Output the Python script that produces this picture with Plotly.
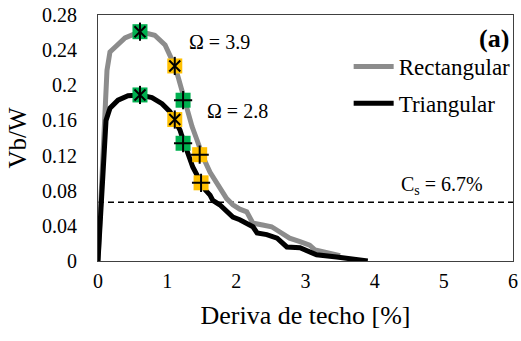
import plotly.graph_objects as go

# Rectangular (gray) curve
rect_x = [0, 0.043, 0.072, 0.101, 0.130, 0.173, 0.275, 0.39, 0.607, 0.82, 0.97, 1.07, 1.11, 1.16,
          1.23, 1.29, 1.36, 1.43, 1.52, 1.62, 1.72, 1.81, 1.86, 1.95, 2.05, 2.15, 2.20, 2.24,
          2.38, 2.51, 2.59, 2.66, 2.77, 2.92, 3.06, 3.14, 3.31, 3.50]
rect_y = [0, 0.069, 0.126, 0.183, 0.217, 0.238, 0.246, 0.254, 0.261, 0.257, 0.246, 0.231, 0.222, 0.209,
          0.189, 0.172, 0.153, 0.138, 0.118, 0.101, 0.088, 0.075, 0.071, 0.064, 0.059, 0.056, 0.050, 0.043,
          0.041, 0.039, 0.035, 0.031, 0.026, 0.022, 0.018, 0.0125, 0.009, 0.006]

# Triangular (black) curve
tri_x = [0, 0.029, 0.058, 0.087, 0.116, 0.173, 0.289, 0.434, 0.607, 0.78, 0.925, 1.04, 1.11, 1.185,
         1.23, 1.29, 1.37, 1.47, 1.55, 1.62, 1.66, 1.76, 1.86, 1.95, 2.05, 2.15, 2.24, 2.30, 2.44,
         2.59, 2.67, 2.73, 2.92, 3.06, 3.16, 3.45, 3.74, 3.90]
tri_y = [0, 0.047, 0.092, 0.138, 0.160, 0.174, 0.183, 0.188, 0.189, 0.186, 0.179, 0.170, 0.160, 0.149,
         0.138, 0.126, 0.107, 0.092, 0.081, 0.075, 0.069, 0.064, 0.056, 0.050, 0.047, 0.043, 0.039, 0.032,
         0.030, 0.026, 0.020, 0.016, 0.015, 0.010, 0.007, 0.0045, 0.002, 0.0]

# Markers: green star (peak), orange star, green plus, orange plus
green_star_x = [0.607, 0.607]
green_star_y = [0.261, 0.189]
orange_star_x = [1.11, 1.11]
orange_star_y = [0.222, 0.161]
green_plus_x = [1.23, 1.23]
green_plus_y = [0.183, 0.134]
orange_plus_x = [1.47, 1.49]
orange_plus_y = [0.121, 0.089]

cs_value = 0.067
y_ticks = [0, 0.04, 0.08, 0.12, 0.16, 0.2, 0.24, 0.28]
y_tick_labels = ["0", "0.04", "0.08", "0.12", "0.16", "0.2", "0.24", "0.28"]
x_ticks = [0, 1, 2, 3, 4, 5, 6]

FONT = "Liberation Serif"
GREEN = "#00B050"
ORANGE = "#FFC000"

fig = go.Figure()

fig.add_trace(go.Scatter(x=[0, 6], y=[cs_value, cs_value], mode="lines",
                         line=dict(color="black", width=1.5, dash="6px,4px"),
                         showlegend=False, hoverinfo="skip"))
fig.add_trace(go.Scatter(x=rect_x, y=rect_y, mode="lines", name="Rectangular",
                         line=dict(color="#8C8C8C", width=5), legendgroup="r"))
fig.add_trace(go.Scatter(x=tri_x, y=tri_y, mode="lines", name="Triangular",
                         line=dict(color="black", width=5), legendgroup="t"))

def add_marker(xs, ys, color, kind):
    fig.add_trace(go.Scatter(x=xs, y=ys, mode="markers", showlegend=False,
                             marker=dict(symbol="square", size=15, color=color,
                                         line=dict(width=0))))
    if kind == "star":
        syms = ["x-thin-open", "line-ns-open"]
        sizes = [11, 13]
    else:
        syms = ["cross-thin-open"]
        sizes = [13]
    for s, sz in zip(syms, sizes):
        fig.add_trace(go.Scatter(x=xs, y=ys, mode="markers", showlegend=False,
                                 marker=dict(symbol=s, size=sz, color="black",
                                             line=dict(width=2, color="black"))))

add_marker(green_star_x, green_star_y, GREEN, "star")
add_marker(orange_star_x, orange_star_y, ORANGE, "star")
add_marker(green_plus_x, green_plus_y, GREEN, "plus")
add_marker(orange_plus_x, orange_plus_y, ORANGE, "plus")

fig.add_annotation(x=1.28, y=0.249, text="Ω = 3.9", showarrow=False, xanchor="left",
                   font=dict(family=FONT, size=20, color="black"))
fig.add_annotation(x=1.54, y=0.171, text="Ω = 2.8", showarrow=False, xanchor="left",
                   font=dict(family=FONT, size=20, color="black"))
fig.add_annotation(x=4.97, y=0.0865, text="C<sub>s</sub> = 6.7%", showarrow=False,
                   font=dict(family=FONT, size=20, color="black"))
fig.add_annotation(x=0.995, y=0.906, xref="paper", yref="paper", text="<b>(a)</b>",
                   showarrow=False, xanchor="right", yanchor="middle",
                   font=dict(family=FONT, size=26, color="black"))

axis_common = dict(showgrid=False, zeroline=False, showline=True, mirror=True,
                   linecolor="#404040", linewidth=1, ticks="",
                   tickfont=dict(family=FONT, size=20, color="black"))

fig.update_xaxes(range=[0, 6], tickvals=x_ticks, ticklabelstandoff=2, ticklabeloverflow="allow",
                 title=dict(text="Deriva de techo [%]", font=dict(family=FONT, size=26, color="black"),
                            standoff=14),
                 **axis_common)
fig.update_yaxes(range=[0, 0.28], tickvals=y_ticks, ticktext=y_tick_labels, ticklabelstandoff=16,
                 ticklabeloverflow="allow",
                 title=dict(text="Vb/W", font=dict(family=FONT, size=25, color="black"), standoff=8),
                 **axis_common)

fig.update_layout(
    width=521, height=341,
    margin=dict(l=98, r=8, t=15, b=80, autoexpand=False),
    plot_bgcolor="white", paper_bgcolor="white",
    legend=dict(x=0.604, y=0.878, xanchor="left", yanchor="top",
                font=dict(family=FONT, size=23, color="black"),
                bgcolor="rgba(0,0,0,0)", tracegroupgap=4, itemwidth=40),
    showlegend=True,
)

fig.write_html("out.html", post_script="document.body.style.margin='0';",
               config={"displayModeBar": False})
